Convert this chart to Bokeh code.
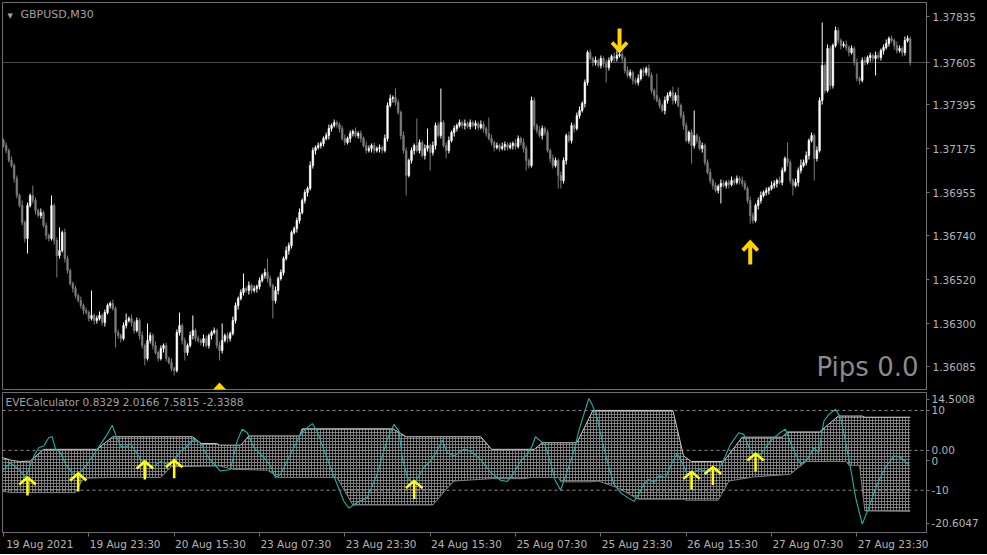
import numpy as np
from bokeh.plotting import figure
from bokeh.layouts import column
from bokeh.models import (ColumnDataSource, FixedTicker, PrintfTickFormatter, Range1d, Span,
                          Label, LinearAxis)
from bokeh.embed import file_html
from bokeh.resources import INLINE

# ---------------- data ----------------
symbol_title = "GBPUSD,M30"
indicator_title = "EVECalculator 0.8329 2.0166 7.5815 -2.3388"
pips_text = "Pips 0.0"
current_price = 1.37605

time_tick_bars = [0, 32, 64, 96, 128, 160, 192, 224, 256, 288, 320]
time_tick_labels = ["19 Aug 2021", "19 Aug 23:30", "20 Aug 15:30", "23 Aug 07:30",
                    "23 Aug 23:30", "24 Aug 15:30", "25 Aug 07:30", "25 Aug 23:30",
                    "26 Aug 15:30", "27 Aug 07:30", "27 Aug 23:30"]

price_ticks = [1.37835, 1.37605, 1.37395, 1.37175, 1.36955, 1.36740, 1.36520, 1.36300, 1.36085]
price_min, price_max = 1.35970, 1.37905

ind_max, ind_min = 14.5008, -20.6047
ind_tick_values = [12.75, 10, 0, -2.6, -10, -18.3]
ind_tick_labels = ["14.5008", "10", "0.00", "0", "-10", "-20.6047"]
ind_levels = [10, 0, -10]

first_open = 1.37215
close = [
1.37190, 1.37165, 1.37115, 1.37090, 1.37025, 1.36940, 1.36890, 1.36805, 1.36725, 1.36890,
1.36940, 1.36915, 1.36865, 1.36840, 1.36855, 1.36790, 1.36740, 1.36725, 1.36890, 1.36715,
1.36640, 1.36665, 1.36755, 1.36625, 1.36565, 1.36500, 1.36475, 1.36440, 1.36415, 1.36390,
1.36365, 1.36355, 1.36325, 1.36340, 1.36315, 1.36325, 1.36340, 1.36305, 1.36355, 1.36390,
1.36400, 1.36375, 1.36255, 1.36240, 1.36225, 1.36290, 1.36315, 1.36325, 1.36305, 1.36265,
1.36315, 1.36240, 1.36190, 1.36125, 1.36215, 1.36240, 1.36190, 1.36155, 1.36125, 1.36175,
1.36190, 1.36125, 1.36105, 1.36075, 1.36065, 1.36255, 1.36290, 1.36215, 1.36155, 1.36190,
1.36240, 1.36265, 1.36225, 1.36215, 1.36205, 1.36225, 1.36190, 1.36240, 1.36255, 1.36265,
1.36190, 1.36165, 1.36215, 1.36240, 1.36225, 1.36250, 1.36315, 1.36390, 1.36425, 1.36455,
1.36475, 1.36465, 1.36490, 1.36465, 1.36475, 1.36485, 1.36515, 1.36540, 1.36555, 1.36525,
1.36490, 1.36415, 1.36465, 1.36525, 1.36555, 1.36625, 1.36665, 1.36690, 1.36755, 1.36775,
1.36815, 1.36855, 1.36915, 1.36955, 1.36975, 1.37090, 1.37165, 1.37180, 1.37190, 1.37200,
1.37225, 1.37240, 1.37275, 1.37290, 1.37305, 1.37295, 1.37275, 1.37225, 1.37205, 1.37225,
1.37250, 1.37260, 1.37240, 1.37250, 1.37225, 1.37190, 1.37165, 1.37175, 1.37190, 1.37165,
1.37175, 1.37180, 1.37165, 1.37225, 1.37390, 1.37425, 1.37430, 1.37405, 1.37355, 1.37240,
1.37165, 1.37040, 1.37115, 1.37165, 1.37190, 1.37165, 1.37205, 1.37140, 1.37175, 1.37190,
1.37155, 1.37190, 1.37290, 1.37240, 1.37305, 1.37190, 1.37165, 1.37215, 1.37255, 1.37275,
1.37290, 1.37305, 1.37290, 1.37300, 1.37285, 1.37305, 1.37290, 1.37300, 1.37280, 1.37295,
1.37275, 1.37250, 1.37225, 1.37205, 1.37180, 1.37190, 1.37175, 1.37185, 1.37195, 1.37180,
1.37190, 1.37200, 1.37185, 1.37225, 1.37205, 1.37175, 1.37115, 1.37090, 1.37415, 1.37290,
1.37265, 1.37240, 1.37275, 1.37255, 1.37165, 1.37125, 1.37090, 1.37115, 1.37040, 1.37015,
1.37115, 1.37240, 1.37215, 1.37290, 1.37275, 1.37340, 1.37365, 1.37400, 1.37505, 1.37655,
1.37625, 1.37605, 1.37615, 1.37590, 1.37625, 1.37600, 1.37580, 1.37615, 1.37635, 1.37625,
1.37640, 1.37645, 1.37625, 1.37565, 1.37540, 1.37555, 1.37515, 1.37505, 1.37525, 1.37565,
1.37555, 1.37575, 1.37540, 1.37465, 1.37440, 1.37415, 1.37390, 1.37365, 1.37415, 1.37440,
1.37455, 1.37415, 1.37440, 1.37390, 1.37340, 1.37290, 1.37215, 1.37255, 1.37190, 1.37240,
1.37215, 1.37175, 1.37190, 1.37105, 1.37055, 1.37015, 1.36990, 1.36965, 1.36985, 1.37000,
1.36990, 1.37005, 1.36995, 1.37015, 1.37005, 1.37025, 1.37015, 1.37000, 1.36975, 1.36915,
1.36840, 1.36815, 1.36890, 1.36915, 1.36940, 1.36955, 1.36965, 1.36975, 1.36990, 1.37000,
1.37015, 1.37005, 1.37065, 1.37125, 1.37105, 1.37015, 1.36990, 1.37005, 1.37065, 1.37090,
1.37105, 1.37140, 1.37215, 1.37240, 1.37125, 1.37165, 1.37415, 1.37590, 1.37465, 1.37675,
1.37490, 1.37690, 1.37765, 1.37715, 1.37690, 1.37695, 1.37680, 1.37655, 1.37675, 1.37605,
1.37525, 1.37515, 1.37615, 1.37605, 1.37630, 1.37640, 1.37625, 1.37640, 1.37630, 1.37665,
1.37680, 1.37700, 1.37725, 1.37715, 1.37690, 1.37665, 1.37675, 1.37655, 1.37715, 1.37725,
1.37605]

# wick lengths above / below the body, in points (0.00001)
up_wick_pts = [
10,15,10,20,10,15,10,25,10,15, 10,50,15,10,20,10,15,10,50,10,
15,115,10,20,15,10,10,15,10,20, 10,15,10,125,10,15,20,10,15,10,
10,20,10,15,10,15,35,10,20,10, 15,10,20,10,85,15,10,20,10,15,
10,15,10,20,10,15,65,10,15,10, 20,75,10,15,10,20,15,10,10,15,
10,20,85,10,15,10,20,15,10,15, 75,10,20,10,15,10,15,10,20,70,
15,10,20,10,15,10,20,15,10,10, 15,20,10,15,10,20,15,10,15,10,
10,15,20,10,15,10,10,15,20,10, 15,10,20,10,15,10,20,15,10,15,
10,15,10,20,15,20,10,45,15,10, 20,15,10,15,10,135,15,10,20,85,
10,20,15,15,170,10,15,20,10,15, 10,15,10,20,10,15,10,15,10,20,
15,10,80,20,10,15,10,20,15,10, 15,10,20,15,10,20,15,10,20,15,
10,20,15,10,15,10,20,15,10,20, 15,10,20,15,10,15,20,10,15,10,
15,10,20,10,15,10,20,15,10,20, 25,10,15,10,20,15,10,15,20,10,
15,10,20,15,10,110,15,10,20,15, 10,30,15,40,10,20,15,10,15,125,
10,20,15,10,15,20,10,15,10,20, 15,10,15,20,10,15,10,20,15,10,
20,15,10,15,20,10,15,10,20,15, 10,20,15,10,80,15,10,20,15,30,
15,20,10,15,10,20,15,215,10,20, 15,10,20,15,10,15,20,10,15,10,
20,10,15,20,10,15,10,20,15,10, 15,20,10,15,10,20,15,10,20,15,10]
dn_wick_pts = [
10,15,10,10,20,15,10,15,20,75, 10,15,20,10,15,10,20,15,10,20,
110,15,10,20,15,10,20,15,10,15, 20,10,15,10,20,15,10,15,20,10,
15,10,75,15,20,10,15,10,20,15, 10,20,15,35,10,15,20,10,15,10,
20,15,10,15,25,10,15,20,40,15, 10,20,15,10,15,20,10,15,20,10,
15,50,15,10,20,15,10,15,20,10, 15,10,20,15,10,20,15,10,15,20,
10,90,15,20,10,15,10,20,15,10, 20,15,10,15,20,10,15,20,10,15,
15,10,20,15,10,15,20,10,15,10, 20,15,10,15,20,10,15,10,20,15,
10,20,15,10,15,10,20,15,10,20, 15,100,10,15,20,10,15,10,20,15,
90,15,20,10,15,10,40,15,10,20, 15,10,15,20,10,15,10,20,15,10,
20,15,10,15,20,10,15,10,20,15, 10,20,15,10,15,20,50,15,10,20,
15,10,20,15,10,20,15,10,65,40, 15,20,10,15,20,10,15,10,20,15,
10,20,15,10,15,20,75,15,10,20, 15,10,20,15,10,15,20,10,15,10,
20,15,10,15,20,10,15,10,20,15, 10,20,15,10,15,20,10,15,90,15,
15,10,20,15,10,15,20,10,15,85, 10,15,20,10,15,10,20,15,10,15,
40,15,10,20,15,10,15,20,10,15, 20,10,15,10,20,15,50,10,20,15,
10,15,20,10,110,15,10,20,15,10, 20,15,10,15,20,10,15,20,10,15,
15,20,10,15,10,20,15,85,10,15, 20,10,15,10,20,15,10,20,15,10,15]

# signal arrows on the price chart (bar index, price at arrow tip)
sell_arrow_bar = [231]
sell_arrow_price = [1.37665]
buy_arrow_bar = [81, 280]
buy_arrow_price = [1.35990, 1.36705]

# EVECalculator indicator: band edges and oscillator (bar index, value)
upper_bar = [-1, 3, 6, 10, 15, 35, 41, 71, 74, 80, 81, 89, 92, 111, 112, 146, 151, 179,
             183, 199, 202, 215, 221, 251, 255, 258, 270, 277, 292, 294, 306, 313, 322, 323, 340]
upper_val = [-1.7, -2.5, -2.8, -2.7, 0.25, 0.25, 3.4, 3.4, 1.7, 1.7, 1.3, 1.3, 3.6, 3.6, 5.4, 5.4, 3.4, 3.4,
             0.25, 0.25, 1.9, 1.9, 10.0, 10.0, -1.4, -2.8, -2.8, 3.3, 3.3, 4.6, 4.6, 8.6, 8.6, 8.3, 8.3]
lower_bar = [-1, 3, 27, 30, 40, 59, 63, 81, 86, 99, 103, 125, 131, 161, 166, 169, 183, 195, 198,
             208, 209, 220, 223, 230, 238, 255, 256, 268, 272, 281, 295, 301, 316, 317, 321, 323, 340]
lower_val = [-10.2, -10.6, -10.6, -7.0, -6.8, -6.8, -4.1, -3.9, -4.75, -5.0, -6.8, -6.8, -13.7, -13.7, -9.75, -7.7, -7.1, -7.1, -6.8,
             -6.8, -7.9, -7.9, -7.7, -9.3, -12.25, -12.25, -12.5, -12.5, -7.7, -6.7, -6.0, -2.8, -2.8, -3.75, -3.75, -15.2, -15.3]

cyan_bar = [-1.1, 2.6, 6.4, 8.3, 11.4, 13.3, 15.1, 17.0, 18.3, 19.5,
            21.4, 23.3, 25.8, 27.6, 31.4, 33.9, 36.4, 38.9, 40.8, 42.0,
            43.9, 45.8, 47.6, 49.5, 51.4, 53.3, 56.4, 58.9, 61.4, 63.3,
            66.4, 68.9, 71.4, 73.9, 76.4, 79.5, 81.4, 85.1, 87.6, 89.5,
            91.4, 93.9, 97.6, 100.1, 102.0, 103.9, 107.6, 111.4, 113.9, 115.8,
            117.6, 120.1, 122.6, 125.1, 127.6, 129.5, 132.6, 136.4, 140.1, 143.9,
            146.4, 148.3, 149.5, 151.4, 153.9, 157.6, 160.1, 162.6, 164.5, 166.4,
            168.9, 172.6, 175.1, 178.9, 182.6, 186.4, 188.9, 191.4, 193.9, 196.4,
            198.2, 199.5, 201.4, 203.2, 205.1, 207.0, 208.9, 211.4, 213.9, 215.7,
            217.6, 219.5, 220.7, 222.6, 224.5, 227.0, 228.9, 231.4, 233.9, 236.4,
            238.2, 240.1, 242.0, 243.9, 245.7, 248.2, 250.7, 252.6, 254.5, 256.4,
            258.2, 260.7, 263.2, 265.7, 268.2, 270.1, 272.6, 275.7, 277.6, 279.5,
            281.4, 283.9, 287.6, 290.7, 293.2, 295.1, 297.0, 298.9, 301.4, 303.9,
            305.7, 307.6, 309.5, 312.0, 313.9, 315.7, 317.6, 319.5, 322.0, 324.5,
            327.6, 330.7, 333.9, 336.4, 339.5]
cyan_val = [-5.6, -3.1, -5.2, -6.8, -1.4, 0.7, 1.1, 3.2, 3.4, 0.3,
            -0.6, -3.5, -5.6, -6.4, -3.5, -1.0, 1.5, 4.0, 6.3, 4.0,
            1.1, 0.7, 1.7, -0.2, -2.3, -3.5, -3.9, -2.8, -3.5, -3.1,
            -0.2, 1.1, 2.8, 1.9, -1.4, -3.9, -5.2, -4.8, 2.3, 5.3,
            4.4, 0.7, -1.8, -3.9, -6.8, -6.0, -1.0, 4.0, 5.7, 6.7,
            4.8, 0.3, -4.3, -8.5, -12.7, -14.5, -13.1, -11.8, -6.0, 2.8,
            6.5, 4.8, -1.8, -6.8, -8.5, -4.3, -2.7, -0.2, 2.6, -0.6,
            -1.4, 0.3, -0.2, -2.3, -5.5, -7.5, -7.8, -5.6, -2.7, -1.0,
            1.1, 3.4, 2.3, 1.1, -3.1, -7.7, -10.0, -5.2, -0.2, 4.8,
            9.0, 13.0, 11.5, 8.2, 2.3, -4.3, -8.5, -10.6, -11.8, -12.8,
            -11.0, -8.5, -7.3, -8.1, -6.4, -6.8, -3.1, -0.8, -3.1, -6.0,
            -5.6, -4.8, -5.2, -4.8, -4.8, -2.3, 1.5, 4.4, 4.0, 0.7,
            -1.4, -1.0, 2.3, 4.2, 5.3, 1.9, -1.0, -3.5, -2.3, 0.7,
            -0.6, 7.3, 9.0, 10.3, 8.2, 2.3, -4.3, -11.8, -18.5, -14.3,
            -8.5, -4.3, -1.4, -1.8, -3.7]

ind_arrow_bar = [9, 28, 53, 64, 154, 258, 266, 282]
ind_arrow_val = [-6.8, -5.8, -2.8, -2.5, -7.7, -5.4, -4.2, -0.8]

# ---------------- styling constants ----------------
FONT = "DejaVu Sans"
GRAY_TXT = "#b4b4b4"
FRAME_GRAY = "#6e6e6e"
FW = 924
MAIN_FH = 387
IND_FH = 140
X_START, X_END = -0.375, 346.1
LABEL_SHIFT = 13.6   # time labels start at their tick (MT4 style)

# ---------------- candles ----------------
N = len(close)
c = np.array(close)
o = np.concatenate([[first_open], c[:-1]])
hi = np.maximum(o, c) + np.array(up_wick_pts[:N]) * 1e-5
lo = np.minimum(o, c) - np.array(dn_wick_pts[:N]) * 1e-5
bull = c >= o
col = np.where(bull, "#ffffff", "#7c7c7c")
csrc = ColumnDataSource(dict(x=np.arange(N), top=np.maximum(o, c), bottom=np.minimum(o, c),
                             hi=hi, lo=lo, color=col))

x_range = Range1d(X_START, X_END)

p = figure(frame_width=FW, frame_height=MAIN_FH, x_range=x_range,
           y_range=Range1d(price_min, price_max),
           output_backend="svg", toolbar_location=None,
           x_axis_location=None, y_axis_location="right",
           background_fill_color="black", border_fill_color="black",
           min_border_left=2, min_border_right=61, min_border_top=2, min_border_bottom=2,
           outline_line_color=FRAME_GRAY)
p.xgrid.visible = False
p.ygrid.visible = False

p.add_layout(Span(location=current_price, dimension="width", line_color="#4a4a4a",
                  line_width=1, level="underlay"))

p.segment(x0="x", y0="lo", x1="x", y1="hi", line_color="color", line_width=1, source=csrc)
p.vbar(x="x", top="top", bottom="bottom", width=0.62, fill_color="color",
       line_color="color", line_width=0.6, source=csrc)

# price-chart arrows (gold, thick chevrons)
ppx = (price_max - price_min) / MAIN_FH
bpx = (X_END - X_START) / FW
hw, hh, ln = 7.5 * bpx, 8 * ppx, 22 * ppx
gold = "#ffd200"
p.multi_line([[b, b] for b in sell_arrow_bar],
             [[v + 2 * ppx, v + ln] for v in sell_arrow_price], line_color=gold, line_width=4)
p.multi_line([[b - hw, b, b + hw] for b in sell_arrow_bar],
             [[v + hh, v, v + hh] for v in sell_arrow_price],
             line_color=gold, line_width=4, line_join="miter")
p.multi_line([[b, b] for b in buy_arrow_bar],
             [[v - 2 * ppx, v - ln] for v in buy_arrow_price], line_color=gold, line_width=4)
p.multi_line([[b - hw, b, b + hw] for b in buy_arrow_bar],
             [[v - hh, v, v - hh] for v in buy_arrow_price],
             line_color=gold, line_width=4, line_join="miter")

yax = p.yaxis[0]
yax.ticker = FixedTicker(ticks=price_ticks)
yax.formatter = PrintfTickFormatter(format="%.5f")
yax.major_label_text_color = GRAY_TXT
yax.major_label_text_font = FONT
yax.major_label_text_font_size = "10.5px"
yax.axis_line_color = FRAME_GRAY
yax.major_tick_line_color = FRAME_GRAY
yax.major_tick_out = 3
yax.major_tick_in = 0
yax.minor_tick_line_color = None
yax.major_label_standoff = 3

p.add_layout(Label(x=5, y=MAIN_FH - 9, x_units="screen", y_units="screen", text="\u25bc",
                   text_color="#a0a0a0", text_font_size="7px", text_font=FONT,
                   text_baseline="top"))
p.add_layout(Label(x=18, y=MAIN_FH - 5, x_units="screen", y_units="screen", text=symbol_title,
                   text_color="#a0a0a0", text_font_size="11px", text_font=FONT,
                   text_baseline="top"))
p.add_layout(Label(x=FW - 8, y=8, x_units="screen", y_units="screen", text=pips_text,
                   text_color="#8a8a8a", text_font_size="26px", text_font=FONT,
                   text_align="right", text_baseline="bottom"))

# ---------------- indicator panel ----------------
q = figure(frame_width=FW, frame_height=IND_FH, x_range=x_range,
           y_range=Range1d(ind_min, ind_max),
           output_backend="svg", toolbar_location=None,
           x_axis_location="below", y_axis_location="right",
           background_fill_color="black", border_fill_color="black",
           min_border_left=2, min_border_right=61, min_border_top=1, min_border_bottom=22,
           outline_line_color=FRAME_GRAY)
q.xgrid.visible = False
q.ygrid.visible = False

for lv in ind_levels:
    q.add_layout(Span(location=lv, dimension="width", line_color="#8c8c8c",
                      line_width=1, line_dash="3 3", level="underlay"))

poly_x = list(upper_bar) + list(lower_bar)[::-1]
poly_y = list(upper_val) + list(lower_val)[::-1]
q.patch(poly_x, poly_y, fill_color=None, line_color=None,
        hatch_pattern="+", hatch_color="#8e8e8e", hatch_scale=3, hatch_weight=1, hatch_alpha=0.85)
q.line(upper_bar, upper_val, line_color="#c8c8c8", line_width=1)
q.line(lower_bar, lower_val, line_color="#808080", line_width=1)
q.line(cyan_bar, cyan_val, line_color="#20b2aa", line_width=1.1)

ipx = (ind_max - ind_min) / IND_FH
ihw, ihh, iln = 3.1, 7 * ipx, 18 * ipx
q.multi_line([[b, b] for b in ind_arrow_bar],
             [[v - 1 * ipx, v - iln] for v in ind_arrow_val], line_color="#ffff00", line_width=2.5)
q.multi_line([[b - ihw, b, b + ihw] for b in ind_arrow_bar],
             [[v - ihh, v, v - ihh] for v in ind_arrow_val],
             line_color="#ffff00", line_width=2.5, line_join="miter")

qy = q.yaxis[0]
qy.ticker = FixedTicker(ticks=ind_tick_values)
qy.major_label_overrides = {float(t): s for t, s in zip(ind_tick_values, ind_tick_labels)}
qy.major_label_text_color = GRAY_TXT
qy.major_label_text_font = FONT
qy.major_label_text_font_size = "10.5px"
qy.axis_line_color = FRAME_GRAY
qy.major_tick_line_color = FRAME_GRAY
qy.major_tick_out = 3
qy.major_tick_in = 0
qy.minor_tick_line_color = None
qy.major_label_standoff = 2

# time axis: tick marks at the bars, labels starting at each tick
qx = q.xaxis[0]
qx.ticker = FixedTicker(ticks=time_tick_bars)
qx.major_label_overrides = {float(t): "" for t in time_tick_bars}
qx.major_label_text_font_size = "1px"
qx.major_label_standoff = 0
qx.axis_line_color = FRAME_GRAY
qx.major_tick_line_color = FRAME_GRAY
qx.major_tick_out = 4
qx.major_tick_in = 0
qx.minor_tick_line_color = None

label_pos = [b + LABEL_SHIFT for b in time_tick_bars]
tx = LinearAxis(ticker=FixedTicker(ticks=label_pos),
                major_label_overrides={float(t): s for t, s in zip(label_pos, time_tick_labels)})
tx.axis_line_color = None
tx.major_tick_line_color = None
tx.minor_tick_line_color = None
tx.major_tick_out = 0
tx.major_tick_in = 0
tx.major_label_standoff = 1
tx.major_label_text_color = GRAY_TXT
tx.major_label_text_font = FONT
tx.major_label_text_font_size = "10.5px"
q.add_layout(tx, "below")

q.add_layout(Label(x=3, y=IND_FH - 3, x_units="screen", y_units="screen", text=indicator_title,
                   text_color="#a0a0a0", text_font_size="10.5px", text_font=FONT,
                   text_baseline="top"))

layout = column(p, q, spacing=0, styles={"background-color": "black"})
open("out.html", "w").write(file_html(layout, INLINE))
